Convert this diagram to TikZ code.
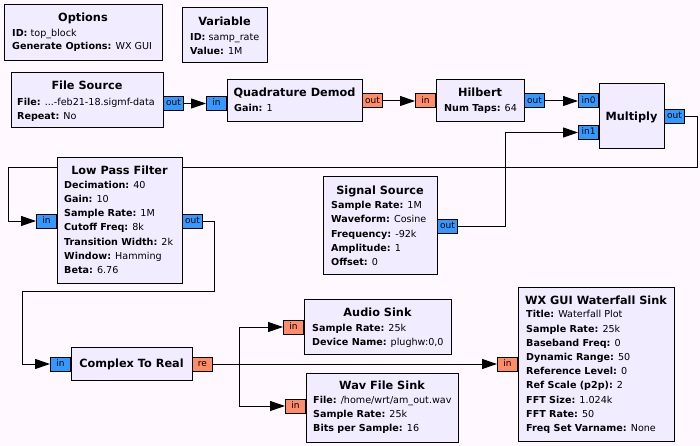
\documentclass[tikz,border=0pt]{standalone}
\usepackage{fontspec}
\setmainfont{DejaVu Sans}
\usetikzlibrary{arrows.meta}
\definecolor{canvas}{HTML}{FFF9FF}
\definecolor{blockfill}{HTML}{F1ECFF}
\definecolor{cplxport}{HTML}{3399FF}
\definecolor{fltport}{HTML}{FF8C69}
\pgfdeclarelayer{back}
\pgfdeclarelayer{wires}
\pgfsetlayers{back,wires,main}
\newcommand{\prm}[2]{\textbf{#1:} #2}

\begin{document}
\begin{tikzpicture}[x=1pt,y=-1pt,
    blk/.style={draw, line width=1pt, fill=blockfill, inner sep=0pt},
    ttl/.style={anchor=base, font=\fontsize{11.3}{13}\selectfont\bfseries},
    prms/.style={anchor=base west, align=left, inner sep=0pt, font=\fontsize{9.6}{14.2}\selectfont},
    port/.style={draw, line width=1pt, inner sep=0pt, minimum width=20pt, minimum height=14pt,
        text height=7pt, text depth=2pt, font=\fontsize{9}{10}\selectfont},
    cport/.style={port, fill=cplxport},
    fport/.style={port, fill=fltport},
    wire/.style={line width=1pt, -{Triangle[length=15pt,width=10pt]}}]

    % Canvas
    \begin{pgfonlayer}{back}
        \fill[canvas] (0,0) rectangle (700,446);
    \end{pgfonlayer}

    % Options / Variable (params: base = last line)
    \node[blk, minimum width=158pt, minimum height=56pt] (opts) at (83,33) {};
    \node[ttl] (opts-t) at (83,22) {Options};
    \node[prms, font=\fontsize{9.6}{13.2}\selectfont] (opts-p) at (12,49.5) {\prm{ID}{top\_block}\\ \prm{Generate Options}{WX GUI}};

    \node[blk, minimum width=85pt, minimum height=55pt] (var) at (224.5,35.5) {};
    \node[ttl] (var-t) at (224.5,26) {Variable};
    \node[prms] (var-p) at (190,54.5) {\prm{ID}{samp\_rate}\\ \prm{Value}{1M}};

    % File Source
    \node[blk, minimum width=152pt, minimum height=55pt] (fsrc) at (87,100.5) {};
    \node[ttl] (fsrc-t) at (87,90) {File Source};
    \node[prms] (fsrc-p) at (17,119.5) {\prm{File}{...-feb21-18.sigmf-data}\\ \prm{Repeat}{No}};
    \node[cport, anchor=west] (fsrc-out) at (163,103.5) {out};

    % Quadrature Demod
    \node[blk, minimum width=135pt, minimum height=42pt] (qd) at (294.5,101) {};
    \node[ttl] (qd-t) at (294.5,97) {Quadrature Demod};
    \node[prms] (qd-p) at (234,111.5) {\prm{Gain}{1}};
    \node[cport, anchor=east] (qd-in) at (227,103.5) {in};
    \node[fport, anchor=west] (qd-out) at (362,101) {out};

    % Hilbert
    \node[blk, minimum width=88pt, minimum height=42pt] (hil) at (480,101) {};
    \node[ttl] (hil-t) at (480,97) {Hilbert};
    \node[prms] (hil-p) at (444,111.5) {\prm{Num Taps}{64}};
    \node[fport, anchor=east] (hil-in) at (436,101) {in};
    \node[cport, anchor=west] (hil-out) at (524,101) {out};

    % Multiply
    \node[blk, minimum width=65pt, minimum height=65pt] (mul) at (631.5,116.5) {};
    \node[ttl] (mul-t) at (631.5,120.5) {Multiply};
    \node[cport, anchor=east] (mul-in0) at (599,101) {in0};
    \node[cport, anchor=east] (mul-in1) at (599,132.5) {in1};
    \node[cport, anchor=west] (mul-out) at (664,116.5) {out};

    % Low Pass Filter
    \node[blk, minimum width=125pt, minimum height=125pt] (lpf) at (119.5,220.5) {};
    \node[ttl] (lpf-t) at (119.5,175) {Low Pass Filter};
    \node[prms] (lpf-p) at (64,273.5) {\prm{Decimation}{40}\\ \prm{Gain}{10}\\ \prm{Sample Rate}{1M}\\
        \prm{Cutoff Freq}{8k}\\ \prm{Transition Width}{2k}\\ \prm{Window}{Hamming}\\ \prm{Beta}{6.76}};
    \node[cport, anchor=east] (lpf-in) at (57,221) {in};
    \node[cport, anchor=west] (lpf-out) at (182,221) {out};

    % Signal Source
    \node[blk, minimum width=114pt, minimum height=97pt] (sig) at (380,225.5) {};
    \node[ttl] (sig-t) at (380,194) {Signal Source};
    \node[prms] (sig-p) at (331,265.5) {\prm{Sample Rate}{1M}\\ \prm{Waveform}{Cosine}\\ \prm{Frequency}{-92k}\\
        \prm{Amplitude}{1}\\ \prm{Offset}{0}};
    \node[cport, anchor=west] (sig-out) at (437,226) {out};

    % Complex To Real
    \node[blk, minimum width=121pt, minimum height=33pt] (c2r) at (131.5,363.5) {};
    \node[ttl] (c2r-t) at (131.5,367.5) {Complex To Real};
    \node[cport, anchor=east] (c2r-in) at (71,364) {in};
    \node[fport, anchor=west] (c2r-re) at (192,364) {re};

    % Audio Sink
    \node[blk, minimum width=147pt, minimum height=55pt] (aud) at (377.5,326.5) {};
    \node[ttl] (aud-t) at (377.5,316) {Audio Sink};
    \node[prms] (aud-p) at (312,345.5) {\prm{Sample Rate}{25k}\\ \prm{Device Name}{plughw:0,0}};
    \node[fport, anchor=east] (aud-in) at (304,327) {in};

    % Wav File Sink
    \node[blk, minimum width=152pt, minimum height=69pt] (wav) at (382,407.5) {};
    \node[ttl] (wav-t) at (382,389) {Wav File Sink};
    \node[prms] (wav-p) at (313,431.5) {\prm{File}{/home/wrt/am\_out.wav}\\ \prm{Sample Rate}{25k}\\
        \prm{Bits per Sample}{16}};
    \node[fport, anchor=east] (wav-in) at (306,406) {in};

    % WX GUI Waterfall Sink
    \node[blk, minimum width=156pt, minimum height=154pt] (wf) at (596,364) {};
    \node[ttl] (wf-t) at (596,304) {WX GUI Waterfall Sink};
    \node[prms] (wf-p) at (526,431.5) {\prm{Title}{Waterfall Plot}\\ \prm{Sample Rate}{25k}\\ \prm{Baseband Freq}{0}\\
        \prm{Dynamic Range}{50}\\ \prm{Reference Level}{0}\\ \prm{Ref Scale (p2p)}{2}\\ \prm{FFT Size}{1.024k}\\
        \prm{FFT Rate}{50}\\ \prm{Freq Set Varname}{None}};
    \node[fport, anchor=east] (wf-in) at (518,364) {in};

    % Connections
    \begin{pgfonlayer}{wires}
        \draw[wire] (fsrc-out.east) -- (qd-in.west);
        \draw[wire] (qd-out.east) -- (hil-in.west);
        \draw[wire] (hil-out.east) -- (mul-in0.west);
        \draw[wire] (sig-out.east) -- ++(47,0) |- (mul-in1.west);
        \draw[wire] (mul-out.east) -- ++(12,0) |- (8,168) |- (lpf-in.west);
        \draw[wire] (lpf-out.east) -- ++(11,0) |- (22,291) |- (c2r-in.west);
        \coordinate (split) at (239,364);
        \draw[wire] (c2r-re.east) -- (wf-in.west);
        \draw[wire] (c2r-re.east) -- (split) |- (aud-in.west);
        \draw[wire] (c2r-re.east) -- (split) |- (wav-in.west);
    \end{pgfonlayer}
\end{tikzpicture}
\end{document}
